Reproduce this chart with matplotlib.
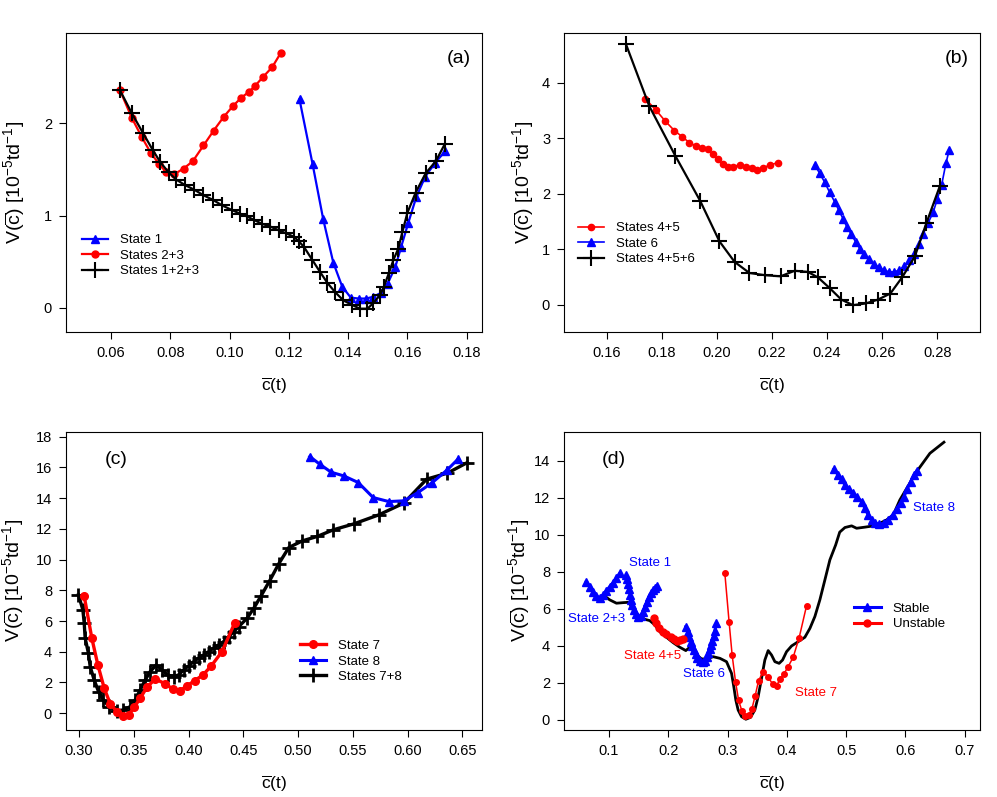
import numpy as np
import matplotlib
matplotlib.use("Agg")
import matplotlib.pyplot as plt

plt.rcParams['font.family'] = ['Liberation Sans', 'DejaVu Sans']
plt.rcParams['mathtext.fontset'] = 'custom'
plt.rcParams['mathtext.rm'] = 'Liberation Sans'
plt.rcParams['mathtext.it'] = 'Liberation Sans:italic'

# ---- panel (a) ----
a_s1_x = [0.1236, 0.1280, 0.1316, 0.1350, 0.1380, 0.1409, 0.1436, 0.1461, 0.1485,
          0.1510, 0.1533, 0.1559, 0.1579, 0.1603, 0.1630, 0.1660, 0.1693, 0.1728]
a_s1_y = [2.26, 1.56, 0.96, 0.49, 0.23, 0.11, 0.10, 0.10, 0.12,
          0.16, 0.26, 0.44, 0.66, 0.92, 1.20, 1.42, 1.57, 1.70]
a_s23_x = [0.0630, 0.0670, 0.0704, 0.0734, 0.0762, 0.0786, 0.0814, 0.0845, 0.0876, 0.0912,
           0.0946, 0.0980, 0.1012, 0.1040, 0.1065, 0.1087, 0.1112, 0.1144, 0.1172]
a_s23_y = [2.36, 2.06, 1.85, 1.68, 1.56, 1.47, 1.45, 1.51, 1.59, 1.76,
           1.92, 2.07, 2.19, 2.28, 2.34, 2.41, 2.50, 2.61, 2.76]
a_all_x = [0.0630, 0.0670, 0.0707, 0.0741, 0.0766, 0.0794, 0.0820, 0.0850, 0.0881, 0.0912,
           0.0944, 0.0975, 0.1008, 0.1036, 0.1059, 0.1084, 0.1110, 0.1138, 0.1166, 0.1189,
           0.1217, 0.1234, 0.1251, 0.1279, 0.1305, 0.1330, 0.1356, 0.1384, 0.1414, 0.1440,
           0.1465, 0.1485, 0.1508, 0.1521, 0.1538, 0.1553, 0.1569, 0.1583, 0.1600, 0.1628,
           0.1662, 0.1696, 0.1727]
a_all_y = [2.36, 2.11, 1.90, 1.71, 1.58, 1.47, 1.39, 1.33, 1.28, 1.22,
           1.17, 1.11, 1.06, 1.02, 0.99, 0.95, 0.91, 0.88, 0.84, 0.81,
           0.77, 0.72, 0.66, 0.52, 0.39, 0.27, 0.17, 0.08, 0.03, -0.01,
           -0.01, 0.05, 0.14, 0.23, 0.38, 0.52, 0.64, 0.82, 1.03, 1.25,
           1.46, 1.59, 1.78]

# ---- panel (b) ----
b_s45_x = [0.1740, 0.1778, 0.1812, 0.1845, 0.1873, 0.1900, 0.1924, 0.1946, 0.1966, 0.1985, 0.2003,
           0.2021, 0.2039, 0.2057, 0.2082, 0.2106, 0.2128, 0.2146, 0.2169, 0.2193, 0.2221]
b_s45_y = [3.71, 3.51, 3.31, 3.14, 3.03, 2.92, 2.86, 2.83, 2.80, 2.71, 2.62,
           2.53, 2.49, 2.49, 2.52, 2.49, 2.46, 2.43, 2.47, 2.52, 2.56]
b_s6_x = [0.2355, 0.2373, 0.2391, 0.2409, 0.2428, 0.2443, 0.2458, 0.2472, 0.2488, 0.2504,
          0.2519, 0.2534, 0.2551, 0.2570, 0.2588, 0.2606, 0.2625, 0.2644, 0.2662, 0.2680,
          0.2698, 0.2715, 0.2733, 0.2749, 0.2767, 0.2786, 0.2801, 0.2816, 0.2832, 0.2844]
b_s6_y = [2.52, 2.37, 2.21, 2.03, 1.85, 1.70, 1.55, 1.40, 1.27, 1.13,
          1.01, 0.91, 0.82, 0.74, 0.67, 0.62, 0.59, 0.59, 0.62, 0.69,
          0.80, 0.92, 1.09, 1.27, 1.47, 1.67, 1.91, 2.15, 2.55, 2.79]
b_all_x = [0.1669, 0.1754, 0.1849, 0.1939, 0.2009, 0.2064, 0.2118, 0.2175, 0.2231, 0.2282, 0.2330,
           0.2367, 0.2409, 0.2452, 0.2494, 0.2540, 0.2585, 0.2630, 0.2674, 0.2719, 0.2761, 0.2810]
b_all_y = [4.70, 3.58, 2.68, 1.87, 1.14, 0.77, 0.57, 0.53, 0.51, 0.61, 0.59,
           0.49, 0.30, 0.09, -0.01, 0.02, 0.09, 0.20, 0.50, 0.87, 1.47, 2.14]

# ---- panel (c) ----
c_s7_x = [0.3046, 0.3116, 0.3171, 0.3229, 0.3284, 0.3345, 0.3400, 0.3451, 0.3503, 0.3558, 0.3619,
          0.3695, 0.3787, 0.3857, 0.3918, 0.3985, 0.4055, 0.4131, 0.4207, 0.4305, 0.4420]
c_s7_y = [7.63, 4.88, 3.14, 1.63, 0.61, 0.10, -0.18, -0.11, 0.39, 0.98, 1.69,
          2.23, 1.91, 1.56, 1.45, 1.78, 2.12, 2.49, 3.08, 4.01, 5.86]
c_s8_x = [0.5107, 0.5198, 0.5302, 0.5418, 0.5549, 0.5686, 0.5829, 0.5966, 0.6095, 0.6226, 0.6363, 0.6460]
c_s8_y = [16.70, 16.20, 15.68, 15.44, 15.01, 14.03, 13.77, 13.82, 14.36, 15.01, 15.84, 16.53]
c_all_x = [0.2994, 0.3034, 0.3046, 0.3055, 0.3085, 0.3101, 0.3137, 0.3177, 0.3222, 0.3277, 0.3345,
           0.3405, 0.3466, 0.3512, 0.3558, 0.3604, 0.3649, 0.3704, 0.3756, 0.3808, 0.3862, 0.3908,
           0.3954, 0.4000, 0.4045, 0.4091, 0.4137, 0.4182, 0.4228, 0.4274, 0.4320, 0.4366, 0.4411,
           0.4457, 0.4534, 0.4595, 0.4662, 0.4741, 0.4823, 0.4915, 0.5037, 0.5174, 0.5320, 0.5509,
           0.5738, 0.5966, 0.6174, 0.6363, 0.6546]
c_all_y = [7.70, 6.72, 5.89, 4.88, 3.90, 3.03, 2.17, 1.41, 0.87, 0.39, 0.17,
           0.21, 0.43, 0.87, 1.52, 2.17, 2.71, 3.14, 2.82, 2.49, 2.38, 2.49,
           2.82, 3.08, 3.36, 3.58, 3.79, 4.01, 4.23, 4.44, 4.66, 4.98, 5.31,
           5.63, 6.18, 6.83, 7.64, 8.63, 9.72, 10.78, 11.21, 11.50, 11.93, 12.32,
           12.91, 13.67, 15.23, 15.62, 16.31]

# ---- panel (d) ----
d_s23_x = [0.0618, 0.0674, 0.0730, 0.0787, 0.0843, 0.0899, 0.0956, 0.1012, 0.1068, 0.1125, 0.1181]
d_s23_y = [7.48, 7.21, 6.94, 6.70, 6.61, 6.76, 6.99, 7.21, 7.42, 7.66, 7.93]
d_s1_x = [0.1294, 0.1311, 0.1328, 0.1338, 0.1355, 0.1372, 0.1395, 0.1422, 0.1451, 0.1490,
          0.1535, 0.1574, 0.1608, 0.1642, 0.1675, 0.1709, 0.1743, 0.1777, 0.1810]
d_s1_y = [7.84, 7.60, 7.35, 7.06, 6.76, 6.49, 6.22, 5.95, 5.73, 5.59,
          5.62, 5.85, 6.13, 6.39, 6.63, 6.85, 7.03, 7.15, 7.24]
d_s45_x = [0.1755, 0.1800, 0.1844, 0.1902, 0.1969, 0.2037, 0.2092, 0.2148, 0.2205, 0.2249]
d_s45_y = [5.50, 5.23, 4.96, 4.77, 4.65, 4.50, 4.36, 4.27, 4.32, 4.38]
d_s6_x = [0.2295, 0.2324, 0.2351, 0.2379, 0.2408, 0.2435, 0.2464, 0.2492, 0.2531, 0.2577,
          0.2616, 0.2645, 0.2672, 0.2695, 0.2717, 0.2739, 0.2763, 0.2785, 0.2813]
d_s6_y = [5.04, 4.77, 4.50, 4.23, 4.00, 3.78, 3.57, 3.37, 3.21, 3.14,
          3.21, 3.39, 3.61, 3.82, 4.05, 4.29, 4.54, 4.83, 5.23]
d_s7_x = [0.2953, 0.3026, 0.3077, 0.3134, 0.3185, 0.3241, 0.3296, 0.3354, 0.3410, 0.3465, 0.3523,
          0.3600, 0.3684, 0.3759, 0.3826, 0.3882, 0.3950, 0.4022, 0.4107, 0.4208, 0.4333]
d_s7_y = [7.96, 5.28, 3.51, 2.07, 1.08, 0.49, 0.22, 0.25, 0.59, 1.30, 2.12,
          2.61, 2.31, 1.95, 1.84, 2.20, 2.49, 2.88, 3.39, 4.45, 6.18]
d_s8_x = [0.4794, 0.4866, 0.4924, 0.4980, 0.5052, 0.5120, 0.5187, 0.5262, 0.5318, 0.5373, 0.5431, 0.5486,
          0.5559, 0.5638, 0.5710, 0.5785, 0.5852, 0.5920, 0.5976, 0.6031, 0.6089, 0.6145, 0.6190]
d_s8_y = [13.55, 13.24, 13.01, 12.70, 12.47, 12.25, 12.04, 11.80, 11.44, 11.08, 10.81, 10.63,
          10.58, 10.63, 10.81, 11.08, 11.41, 11.75, 12.07, 12.49, 12.88, 13.24, 13.46]
d_all_x = [0.0899, 0.1012, 0.1125, 0.1236, 0.1338, 0.1405, 0.1463, 0.1603, 0.1687, 0.1772,
           0.1856, 0.1969, 0.2081, 0.2194, 0.2295, 0.2363, 0.2450, 0.2560, 0.2650, 0.2756,
           0.2872, 0.2982, 0.3067, 0.3105, 0.3139, 0.3178, 0.3235, 0.3308, 0.3387, 0.3460,
           0.3516, 0.3573, 0.3629, 0.3685, 0.3742, 0.3798, 0.3870, 0.3928, 0.3995, 0.4080,
           0.4191, 0.4304, 0.4389, 0.4473, 0.4557, 0.4642, 0.4726, 0.4824, 0.4892, 0.4980,
           0.5093, 0.5177, 0.5317, 0.5486, 0.5683, 0.5795, 0.5907, 0.6190, 0.6414, 0.6651]
d_all_y = [6.76, 6.49, 6.31, 6.34, 6.36, 5.95, 5.68, 5.44, 5.37, 5.14,
           4.77, 4.47, 4.18, 3.93, 3.75, 3.93, 3.60, 3.30, 3.30, 3.42,
           3.33, 3.15, 2.52, 1.80, 1.08, 0.54, 0.18, 0.04, 0.14, 0.54,
           1.26, 2.25, 3.24, 3.75, 3.51, 3.15, 3.06, 3.24, 3.69, 4.00,
           4.23, 4.47, 4.95, 5.59, 6.49, 7.57, 8.65, 9.46, 10.15, 10.40,
           10.49, 10.36, 10.42, 10.50, 10.81, 11.08, 11.89, 13.42, 14.41, 15.01]

BLUE = '#0000ff'
RED = '#ff0000'
YLAB = r'V($\overline{\mathrm{c}}$) [10$^{-5}$td$^{-1}$]'
XLAB = r'$\overline{\mathrm{c}}$(t)'


def style(ax, xlim, ylim, xt, yt, xfmt, ylab_x, xlab_y):
    ax.set_xlim(xlim)
    ax.set_ylim(ylim)
    ax.set_xticks(xt)
    ax.set_xticklabels([xfmt % v for v in xt])
    ax.set_yticks(yt)
    ax.set_yticklabels(['%d' % v for v in yt])
    ax.tick_params(direction='out', length=5, width=0.8, labelsize=10.5, pad=5)
    for s in ax.spines.values():
        s.set_linewidth(0.8)
    ax.set_xlabel(XLAB, fontsize=12.5)
    ax.set_ylabel(YLAB, fontsize=14)
    ax.xaxis.set_label_coords(0.5, xlab_y)
    ax.yaxis.set_label_coords(ylab_x, 0.5)


def legend(ax, handles, labels, anchor):
    ax.legend(handles, labels, loc='upper left', bbox_to_anchor=anchor, frameon=False, fontsize=9.5,
              handlelength=2.0, handletextpad=0.9, labelspacing=0.25, borderaxespad=0)


fig = plt.figure(figsize=(9.97, 7.97), dpi=100)
ax_a = fig.add_axes([0.0662, 0.5834, 0.4173, 0.3752])
ax_b = fig.add_axes([0.5657, 0.5834, 0.4173, 0.3752])
ax_c = fig.add_axes([0.0662, 0.0841, 0.4173, 0.3743])
ax_d = fig.add_axes([0.5657, 0.0841, 0.4173, 0.3743])

# (a)
ax_a.plot(a_s1_x, a_s1_y, color=BLUE, lw=1.6, marker='^', ms=6, label='State 1')
ax_a.plot(a_s23_x, a_s23_y, color=RED, lw=1.6, marker='o', ms=5, label='States 2+3')
ax_a.plot(a_all_x, a_all_y, color='black', lw=1.6, marker='+', ms=11, mew=1.5, label='States 1+2+3')
style(ax_a, (0.0448, 0.1852), (-0.263, 2.98), np.arange(0.06, 0.181, 0.02), [0, 1, 2], '%.2f', -0.094, -0.145)
ax_a.text(0.945, 0.915, '(a)', transform=ax_a.transAxes, fontsize=14, ha='center', va='center')
h, l = ax_a.get_legend_handles_labels()
legend(ax_a, h, l, (0.025, 0.345))

# (b)
ax_b.plot(b_s45_x, b_s45_y, color=RED, lw=1.2, marker='o', ms=4.5, label='States 4+5')
ax_b.plot(b_s6_x, b_s6_y, color=BLUE, lw=1.2, marker='^', ms=5.5, label='State 6')
ax_b.plot(b_all_x, b_all_y, color='black', lw=1.6, marker='+', ms=11, mew=1.5, label='States 4+5+6')
style(ax_b, (0.1444, 0.2956), (-0.495, 4.90), np.arange(0.16, 0.281, 0.02), [0, 1, 2, 3, 4], '%.2f', -0.068, -0.145)
ax_b.text(0.945, 0.915, '(b)', transform=ax_b.transAxes, fontsize=14, ha='center', va='center')
h, l = ax_b.get_legend_handles_labels()
legend(ax_b, h, l, (0.02, 0.385))

# (c)
ax_c.plot(c_all_x, c_all_y, color='black', lw=2.4, marker='+', ms=10, mew=2, label='States 7+8')
ax_c.plot(c_s7_x, c_s7_y, color=RED, lw=2.4, marker='o', ms=5.5, label='State 7')
ax_c.plot(c_s8_x, c_s8_y, color=BLUE, lw=2.2, marker='^', ms=6, label='State 8')
style(ax_c, (0.288, 0.668), (-1.09, 18.32), np.arange(0.30, 0.651, 0.05), range(0, 19, 2), '%.2f', -0.096, -0.148)
ax_c.text(0.12, 0.905, '(c)', transform=ax_c.transAxes, fontsize=14, ha='center', va='center')
h, l = ax_c.get_legend_handles_labels()
legend(ax_c, [h[1], h[2], h[0]], [l[1], l[2], l[0]], (0.55, 0.32))

# (d)
ax_d.plot(d_all_x, d_all_y, color='black', lw=2)
for xs, ys in [(d_s23_x, d_s23_y), (d_s1_x, d_s1_y), (d_s6_x, d_s6_y), (d_s8_x, d_s8_y)]:
    ax_d.plot(xs, ys, color=BLUE, lw=2.2, marker='^', ms=6)
ax_d.plot(d_s45_x, d_s45_y, color=RED, lw=2.2, marker='o', ms=5)
ax_d.plot(d_s7_x, d_s7_y, color=RED, lw=1.1, marker='o', ms=4)
st, = ax_d.plot([], [], color=BLUE, lw=2.2, marker='^', ms=6)
un, = ax_d.plot([], [], color=RED, lw=2.2, marker='o', ms=5)
style(ax_d, (0.024, 0.726), (-0.54, 15.58), np.arange(0.1, 0.71, 0.1), range(0, 15, 2), '%.1f', -0.076, -0.148)
ax_d.text(0.12, 0.905, '(d)', transform=ax_d.transAxes, fontsize=14, ha='center', va='center')
legend(ax_d, [st, un], ['Stable', 'Unstable'], (0.685, 0.445))
lab = dict(fontsize=9.5, va='center', ha='left')
ax_d.text(0.1333, 8.49, 'State 1', color=BLUE, **lab)
ax_d.text(0.0303, 5.46, 'State 2+3', color=BLUE, **lab)
ax_d.text(0.1248, 3.46, 'State 4+5', color=RED, **lab)
ax_d.text(0.2244, 2.49, 'State 6', color=BLUE, **lab)
ax_d.text(0.4135, 1.48, 'State 7', color=RED, **lab)
ax_d.text(0.6128, 11.48, 'State 8', color=BLUE, **lab)

fig.savefig('out.png', dpi=100)
